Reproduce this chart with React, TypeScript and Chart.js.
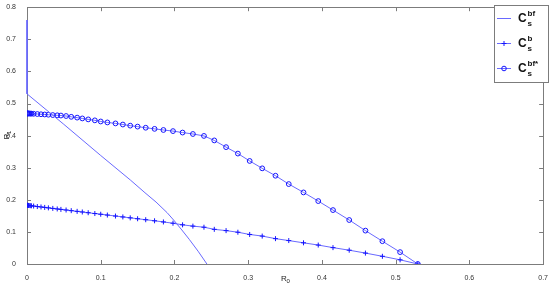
import React, { useEffect, useRef } from "react";
import { Chart, registerables } from "chart.js";
Chart.register(...registerables);

// shared R0 grid for the two marker series
const R0_GRID = [
  0, 0.0005, 0.001, 0.002, 0.003, 0.0045, 0.006,
  0.009, 0.014, 0.019, 0.024, 0.029, 0.035, 0.041, 0.046,
  0.053, 0.06, 0.068, 0.075, 0.083, 0.092, 0.1, 0.109,
  0.12, 0.13, 0.14, 0.15, 0.161, 0.173, 0.185, 0.198,
  0.211, 0.225, 0.24, 0.254, 0.27, 0.286, 0.302, 0.319,
  0.337, 0.355, 0.375, 0.395, 0.415, 0.437, 0.459, 0.482,
  0.506, 0.53,
];

// C_s^b (plus markers)
const CSB_R1 = [
  0.183, 0.183, 0.1827, 0.1824, 0.1822, 0.1817, 0.1813,
  0.1805, 0.179, 0.1777, 0.1763, 0.1749, 0.1732, 0.1715, 0.1701,
  0.1682, 0.1662, 0.164, 0.162, 0.1598, 0.1572, 0.155, 0.1525,
  0.1494, 0.1466, 0.1438, 0.141, 0.1379, 0.1346, 0.131, 0.127,
  0.122, 0.118, 0.1146, 0.108, 0.104, 0.099, 0.092, 0.087,
  0.079, 0.073, 0.066, 0.059, 0.051, 0.043, 0.034, 0.024,
  0.013, 0,
];

// C_s^bf* (circle markers)
const CSBFSTAR_R1 = [
  0.469, 0.469, 0.469, 0.469, 0.4688, 0.4686, 0.4684,
  0.468, 0.4672, 0.4665, 0.4658, 0.465, 0.464, 0.4632, 0.4625,
  0.461, 0.4585, 0.456, 0.4535, 0.4505, 0.4475, 0.444, 0.441,
  0.438, 0.4345, 0.431, 0.428, 0.4245, 0.421, 0.4175, 0.414,
  0.4095, 0.405, 0.399, 0.385, 0.364, 0.344, 0.321, 0.298,
  0.275, 0.249, 0.223, 0.196, 0.168, 0.137, 0.104, 0.071,
  0.037, 0,
];

// C_s^bf (plain line)
const CSBF_R0 = [0, 0, 0.05, 0.1, 0.14, 0.16, 0.175, 0.19, 0.2, 0.21, 0.22, 0.232, 0.244];
const CSBF_R1 = [0.76, 0.53, 0.435, 0.338, 0.262, 0.222, 0.193, 0.16, 0.134, 0.106, 0.077, 0.04, 0];

const X_TICKS = [0, 0.1, 0.2, 0.3, 0.4, 0.5, 0.6, 0.7];
const Y_TICKS = [0, 0.1, 0.2, 0.3, 0.4, 0.5, 0.6, 0.7, 0.8];

const LINE_COLOR = "rgb(105,105,255)";
const MARK_COLOR = "rgb(20,20,255)";
const AXIS_COLOR = "#7c7c7c";
const FONT = "'Liberation Sans', Arial, sans-serif";

const fmt = (v: number) => (v === 0 ? "0" : v.toFixed(1));

const boxPlugin = {
  id: "matlabBox",
  beforeDatasetsDraw(chart: any) {
    const { ctx, chartArea: a, scales } = chart;
    ctx.save();
    ctx.strokeStyle = AXIS_COLOR;
    ctx.lineWidth = 1;
    ctx.strokeRect(Math.round(a.left) + 0.5, Math.round(a.top) + 0.5, Math.round(a.right - a.left), Math.round(a.bottom - a.top));
    const tl = 4;
    ctx.beginPath();
    for (const v of X_TICKS) {
      const x = Math.round(scales.x.getPixelForValue(v)) + 0.5;
      ctx.moveTo(x, a.bottom);
      ctx.lineTo(x, a.bottom - tl);
      ctx.moveTo(x, a.top);
      ctx.lineTo(x, a.top + tl);
    }
    for (const v of Y_TICKS) {
      const y = Math.round(scales.y.getPixelForValue(v)) + 0.5;
      ctx.moveTo(a.left, y);
      ctx.lineTo(a.left + tl, y);
      ctx.moveTo(a.right, y);
      ctx.lineTo(a.right - tl, y);
    }
    ctx.stroke();
    // axis titles
    ctx.fillStyle = "#222";
    ctx.textBaseline = "alphabetic";
    ctx.textAlign = "left";
    const cx = (a.left + a.right) / 2;
    ctx.font = `8px ${FONT}`;
    ctx.fillText("R", cx - 4, a.bottom + 17);
    ctx.font = `6px ${FONT}`;
    ctx.fillText("0", cx + 1.5, a.bottom + 19);
    const cy = (a.top + a.bottom) / 2;
    ctx.translate(9, cy);
    ctx.rotate(-Math.PI / 2);
    ctx.font = `8px ${FONT}`;
    ctx.fillText("R", -4, 0);
    ctx.font = `6px ${FONT}`;
    ctx.fillText("1", 1.5, 2);
    ctx.restore();
  },
  afterDraw(chart: any) {
    const { ctx } = chart;
    ctx.save();
    const bx = 494.5, by = 5.5, bw = 54, bh = 77;
    ctx.fillStyle = "#fff";
    ctx.fillRect(bx, by, bw, bh);
    ctx.strokeStyle = AXIS_COLOR;
    ctx.lineWidth = 1;
    ctx.strokeRect(bx, by, bw, bh);
    const entries = [
      { y: 18, sup: "bf", marker: "none" },
      { y: 43, sup: "b", marker: "plus" },
      { y: 68, sup: "bf*", marker: "circle" },
    ];
    for (const e of entries) {
      ctx.strokeStyle = LINE_COLOR;
      ctx.beginPath();
      ctx.moveTo(497, e.y + 0.5);
      ctx.lineTo(511, e.y + 0.5);
      ctx.stroke();
      ctx.strokeStyle = MARK_COLOR;
      if (e.marker === "plus") {
        ctx.beginPath();
        ctx.moveTo(501.5, e.y + 0.5);
        ctx.lineTo(506.5, e.y + 0.5);
        ctx.moveTo(504, e.y - 2);
        ctx.lineTo(504, e.y + 3);
        ctx.stroke();
      } else if (e.marker === "circle") {
        ctx.beginPath();
        ctx.arc(504, e.y + 0.5, 2.3, 0, Math.PI * 2);
        ctx.stroke();
      }
      ctx.fillStyle = "#111";
      ctx.textAlign = "left";
      ctx.textBaseline = "alphabetic";
      ctx.font = `bold 12px ${FONT}`;
      ctx.fillText("C", 518, e.y + 4);
      ctx.font = `bold 8px ${FONT}`;
      ctx.fillText(e.sup, 527.5, e.y - 2);
      ctx.fillText("s", 527.5, e.y + 8);
    }
    ctx.restore();
  },
};

export default function App() {
  const ref = useRef<HTMLCanvasElement>(null);
  useEffect(() => {
    document.body.style.margin = "0";
    const canvas = ref.current!;
    const chart = new Chart(canvas, {
      type: "scatter",
      data: {
        datasets: [
          {
            label: "Cs^bf",
            data: CSBF_R0.map((x, i) => ({ x, y: CSBF_R1[i] })),
            showLine: true,
            borderColor: LINE_COLOR,
            borderWidth: 1,
            pointRadius: 0,
            tension: 0,
            clip: false,
          },
          {
            label: "Cs^b",
            data: R0_GRID.map((x, i) => ({ x, y: CSB_R1[i] })),
            showLine: true,
            borderColor: LINE_COLOR,
            borderWidth: 1,
            pointStyle: "cross",
            pointRadius: 2.5,
            pointBorderColor: MARK_COLOR,
            pointBorderWidth: 1,
            tension: 0,
          },
          {
            label: "Cs^bf*",
            data: R0_GRID.map((x, i) => ({ x, y: CSBFSTAR_R1[i] })),
            showLine: true,
            borderColor: LINE_COLOR,
            borderWidth: 1,
            pointStyle: "circle",
            pointRadius: 2.4,
            pointBorderColor: MARK_COLOR,
            pointBackgroundColor: "rgba(255,255,255,0)",
            pointBorderWidth: 1,
            tension: 0,
          },
        ],
      },
      options: {
        responsive: false,
        animation: false,
        events: [],
        layout: { padding: { top: 5, right: 6, left: 0, bottom: 0 } },
        plugins: { legend: { display: false }, tooltip: { enabled: false } },
        scales: {
          x: {
            type: "linear",
            min: 0,
            max: 0.7,
            grid: { display: false },
            border: { display: false },
            afterBuildTicks: (s: any) => {
              s.ticks = X_TICKS.map((v) => ({ value: v }));
            },
            afterFit: (s: any) => {
              s.height = 22;
            },
            ticks: {
              callback: (v: any) => fmt(Number(v)),
              font: { size: 7, family: FONT },
              color: "#333",
              padding: 2,
              maxRotation: 0,
              autoSkip: false,
            },
          },
          y: {
            type: "linear",
            min: 0,
            max: 0.8,
            grid: { display: false },
            border: { display: false },
            afterBuildTicks: (s: any) => {
              s.ticks = Y_TICKS.map((v) => ({ value: v }));
            },
            afterFit: (s: any) => {
              s.width = 27;
            },
            ticks: {
              callback: (v: any) => fmt(Number(v)),
              font: { size: 7, family: FONT },
              color: "#333",
              padding: 3,
              autoSkip: false,
            },
          },
        },
      },
      plugins: [boxPlugin],
    } as any);
    return () => chart.destroy();
  }, []);
  return (
    <div style={{ width: 550, height: 286 }}>
      <canvas ref={ref} width={550} height={286} style={{ display: "block" }} />
    </div>
  );
}
